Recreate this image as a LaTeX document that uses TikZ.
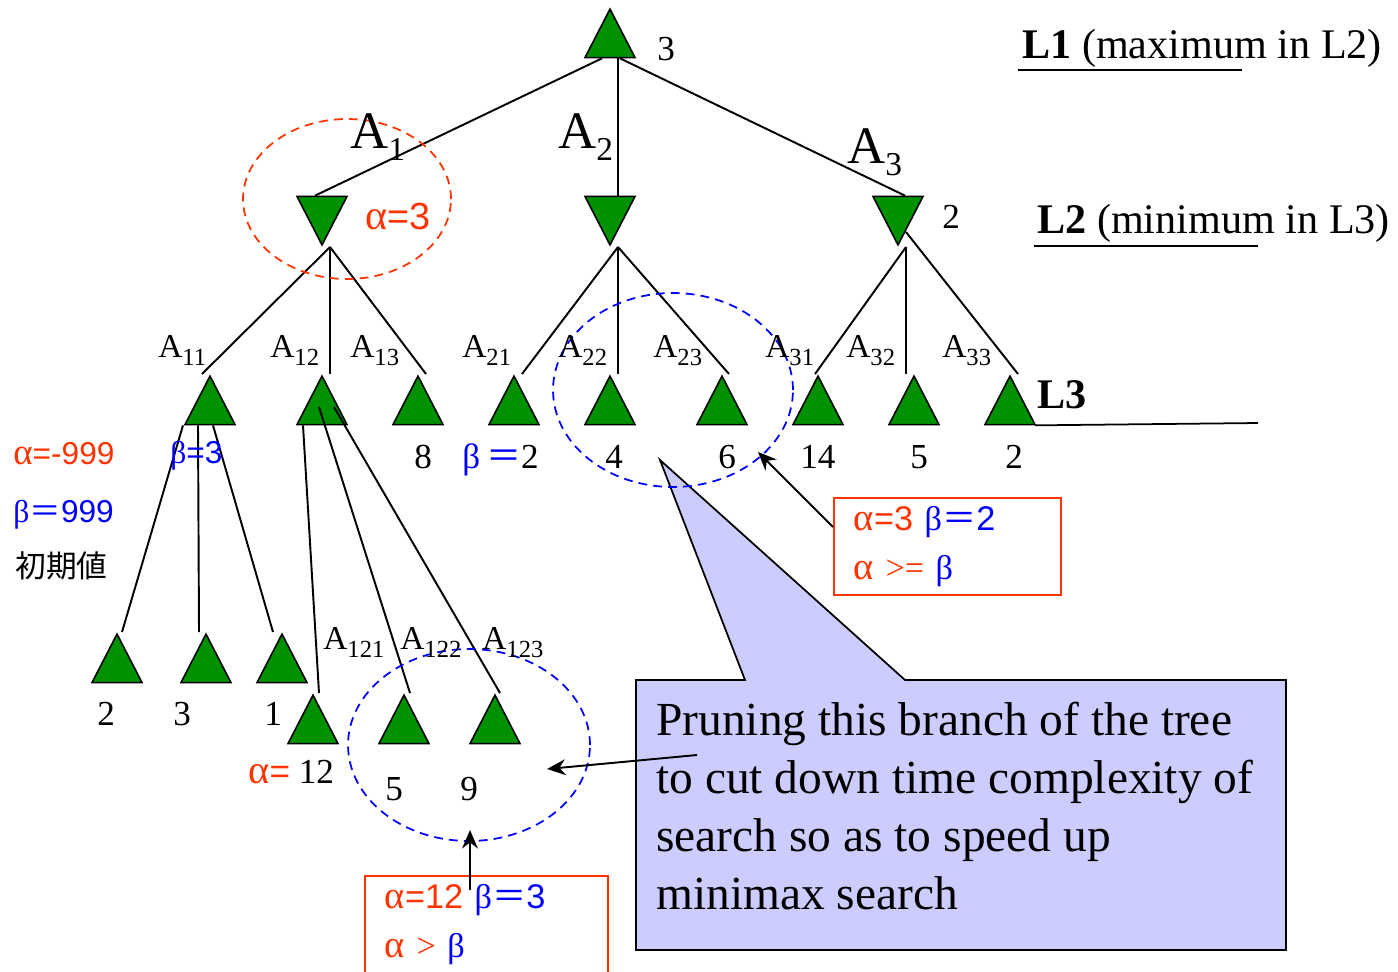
\documentclass[tikz,border=0pt]{standalone}
\usepackage{fontspec}
\setmainfont{Liberation Serif}
\newfontfamily\arial{Liberation Sans}
\newfontfamily\cjk{Noto Sans CJK JP}
\usetikzlibrary{arrows.meta,shapes.geometric,calc}
\definecolor{treegreen}{RGB}{0,145,0}
\definecolor{alphared}{RGB}{255,51,0}
\definecolor{calloutfill}{RGB}{204,204,255}
\newcommand{\fs}[1]{\fontsize{#1}{#1}\selectfont}
\newcommand{\Alab}[2]{A\raisebox{-0.24em}{\fontsize{#2}{#2}\selectfont #1}}

\begin{document}
\begin{tikzpicture}[x=0.02cm,y=-0.02cm,
  maxnode/.style={isosceles triangle,isosceles triangle stretches,shape border rotate=90,
    draw,line width=0.9pt,fill=treegreen,minimum width=1cm,minimum height=0.97cm,inner sep=0pt,anchor=apex},
  minnode/.style={maxnode,shape border rotate=270},
  branch/.style={line width=1.1pt},
  lbl/.style={inner sep=0pt,anchor=base west},
  ring/.style={ellipse,draw,line width=1pt,dash pattern=on 5pt off 3.5pt,inner sep=0pt},
  rbox/.style={draw=alphared,line width=1pt,anchor=north west,align=left,inner xsep=0.4cm,inner ysep=0pt,
    minimum height=1.94cm,font={\fontsize{19.5}{28}\selectfont}},
  arr/.style={-{Stealth[length=10.5pt,width=9pt]},line width=1.1pt}]
\useasboundingbox (0,0) rectangle (1398,971);
\clip (0,0) rectangle (1398,971);

\draw[line width=1pt,fill=calloutfill] (636,680) -- (745,680) -- (660,460) -- (905,680) -- (1286,680) -- (1286,950) -- (636,950) -- cycle;
\node[lbl,align=left,font={\fontsize{27}{33}\selectfont}] (prune) at (656,909)
  {Pruning this branch of the tree\\to cut down time complexity of\\search so as to speed up\\minimax search};

\node[maxnode] (root) at (610,7) {};
\node[minnode] (m1) at (322,247) {};
\node[minnode] (m2) at (610,247) {};
\node[minnode] (m3) at (898,247) {};
\node[maxnode] (a11) at (210,374) {};
\node[maxnode] (a12) at (322,374) {};
\node[maxnode] (a13) at (418,374) {};
\node[maxnode] (a21) at (514,374) {};
\node[maxnode] (a22) at (610,374) {};
\node[maxnode] (a23) at (722,374) {};
\node[maxnode] (a31) at (818,374) {};
\node[maxnode] (a32) at (914,374) {};
\node[maxnode] (a33) at (1010,374) {};
\node[maxnode] (a111) at (117,632) {};
\node[maxnode] (a112) at (206,632) {};
\node[maxnode] (a113) at (282,632) {};
\node[maxnode] (a121) at (313,693) {};
\node[maxnode] (a122) at (404,693) {};
\node[maxnode] (a123) at (495,693) {};

\draw[branch] ($(root.lower side)+(-8,0)$) -- ($(m1.lower side)+(-7,0)$);
\draw[branch] ($(root.lower side)+(8,0)$) -- ($(m2.lower side)+(8,0)$);
\draw[branch] ($(root.lower side)+(10,0)$) -- ($(m3.lower side)+(7,0)$);
\draw[branch] ($(m1.apex)+(8,0)$) -- ($(a11.apex)+(-8,0)$);
\draw[branch] ($(m1.apex)+(8,0)$) -- ($(a12.apex)+(8,0)$);
\draw[branch] ($(m1.apex)+(8,0)$) -- ($(a13.apex)+(8,0)$);
\draw[branch] ($(m2.apex)+(8,0)$) -- ($(a21.apex)+(8,0)$);
\draw[branch] ($(m2.apex)+(8,0)$) -- ($(a22.apex)+(8,0)$);
\draw[branch] ($(m2.apex)+(8,0)$) -- ($(a23.apex)+(7,0)$);
\draw[branch] ($(m3.apex)+(8,0)$) -- ($(a31.apex)+(-3,0)$);
\draw[branch] ($(m3.apex)+(8,0)$) -- ($(a32.apex)+(-8,0)$);
\draw[branch] ($(m3.apex)+(8,-15)$) -- ($(a33.apex)+(8,0)$);
\draw[branch] ($(a11.lower side)+(-27,0)$) -- ($(a111.apex)+(5,0)$);
\draw[branch] ($(a11.lower side)+(-12,0)$) -- ($(a112.apex)+(-7,0)$);
\draw[branch] ($(a11.lower side)+(3,0)$) -- ($(a113.apex)+(-9,0)$);
\draw[branch] ($(a12.lower side)+(-19,0)$) -- ($(a121.apex)+(6,0)$);
\draw[branch] ($(a12.apex)+(-3,33)$) -- ($(a122.apex)+(6,0)$);
\draw[branch] ($(a12.apex)+(12,33)$) -- ($(a123.apex)+(5,0)$);

\node[ring,draw=alphared,minimum width=4.16cm,minimum height=3.2cm] (ring1) at (347,199) {};
\node[ring,draw=blue,minimum width=4.8cm,minimum height=3.88cm] (ring2) at (673,390) {};
\node[ring,draw=blue,minimum width=4.84cm,minimum height=3.84cm] (ring3) at (469,745) {};

\node[lbl,font=\fs{20}] (v0) at (657,60) {3};
\node[lbl,font=\fs{30}] (la1) at (350,148) {\Alab{1}{19}};
\node[lbl,font=\fs{30}] (la2) at (558,148) {\Alab{2}{19}};
\node[lbl,font=\fs{30}] (la3) at (847,163) {\Alab{3}{19}};
\node[lbl,font=\fs{20}] (v3) at (942,228) {2};
\node[lbl,font=\fs{21.5},text=alphared] (alpha1) at (365,229) {{\fs{24}α}{\arial =3}};

\node[lbl,font=\fs{24}] (l1) at (1022,58) {\textbf{L1} (maximum in L2)};
\node[lbl,font=\fs{24}] (l2) at (1037,233) {\textbf{L2} (minimum in L3)};
\node[lbl,font=\fs{24}] (l3) at (1037,408) {\textbf{L3}};
\draw[line width=1pt] (1018,70) -- (1242,70);
\draw[line width=1pt] (1034,246) -- (1258,246);
\draw[line width=1pt] ($(a33.lower side)+(25,0)$) -- (1258,423);

\node[lbl,font=\fs{19}] (la11) at (158,357) {\Alab{11}{14}};
\node[lbl,font=\fs{19}] (la12) at (270,357) {\Alab{12}{14}};
\node[lbl,font=\fs{19}] (la13) at (350,357) {\Alab{13}{14}};
\node[lbl,font=\fs{19}] (la21) at (462,357) {\Alab{21}{14}};
\node[lbl,font=\fs{19}] (la22) at (558,357) {\Alab{22}{14}};
\node[lbl,font=\fs{19}] (la23) at (653,357) {\Alab{23}{14}};
\node[lbl,font=\fs{19}] (la31) at (765,357) {\Alab{31}{14}};
\node[lbl,font=\fs{19}] (la32) at (846,357) {\Alab{32}{14}};
\node[lbl,font=\fs{19}] (la33) at (942,357) {\Alab{33}{14}};

\node[lbl,font=\fs{20}] (v13) at (414,468) {8};
\node[lbl,font=\fs{20}] (v21) at (462,468) {\textcolor{blue}{β\,{\cjk ＝}}2};
\node[lbl,font=\fs{20}] (v22) at (605,468) {4};
\node[lbl,font=\fs{20}] (v23) at (718,468) {6};
\node[lbl,font=\fs{20}] (v31) at (800,468) {14};
\node[lbl,font=\fs{20}] (v32) at (910,468) {5};
\node[lbl,font=\fs{20}] (v33) at (1005,468) {2};
\node[lbl,font=\fs{18},text=blue] (beta11) at (170,463) {β{\arial =3}};

\node[lbl,font=\fs{18},text=alphared] (init1) at (13,464) {{\fs{21}α}{\arial =-999}};
\node[lbl,font=\fs{18},text=blue] (init2) at (13,522) {β{\cjk ＝}{\arial 999}};
\node[lbl,font=\fs{17.5}] (init3) at (15,577) {{\cjk 初期値}};

\node[lbl,font=\fs{20}] (v111) at (97,725) {2};
\node[lbl,font=\fs{20}] (v112) at (173,725) {3};
\node[lbl,font=\fs{20}] (v113) at (264,725) {1};
\node[lbl,font=\fs{19}] (la121) at (323,649) {\Alab{121}{14}};
\node[lbl,font=\fs{19}] (la122) at (400,649) {\Alab{122}{14}};
\node[lbl,font=\fs{19}] (la123) at (482,649) {\Alab{123}{14}};
\node[lbl,font=\fs{20}] (v121) at (248,783) {\textcolor{alphared}{{\fs{23}α}{\arial =}} 12};
\node[lbl,font=\fs{20}] (v122) at (385,800) {5};
\node[lbl,font=\fs{20}] (v123) at (460,800) {9};

\node[rbox,text width=3.74cm] (boxr) at (833,497)
  {\textcolor{alphared}{{\fs{22}α}{\arial =3}} \textcolor{blue}{β{\cjk ＝}{\arial 2}}\\
   \textcolor{alphared}{{\fs{22}α} >=} \textcolor{blue}{β}};
\node[rbox,text width=4.06cm] (boxb) at (364,875)
  {\textcolor{alphared}{{\fs{22}α}{\arial =12}} \textcolor{blue}{β{\cjk ＝}{\arial 3}}\\
   \textcolor{alphared}{{\fs{22}α} >} \textcolor{blue}{β}};

\coordinate (p1) at (697,755);
\coordinate (t1) at (547,769);
\coordinate (p2) at ($(boxr.north west)+(0,30)$);
\coordinate (t2) at (758,452);
\coordinate (p3) at (470,890);
\coordinate (t3) at (470,830);
\draw[arr] (p1) -- (t1);
\draw[arr] (p2) -- (t2);
\draw[arr] (p3) -- (t3);
\end{tikzpicture}
\end{document}
